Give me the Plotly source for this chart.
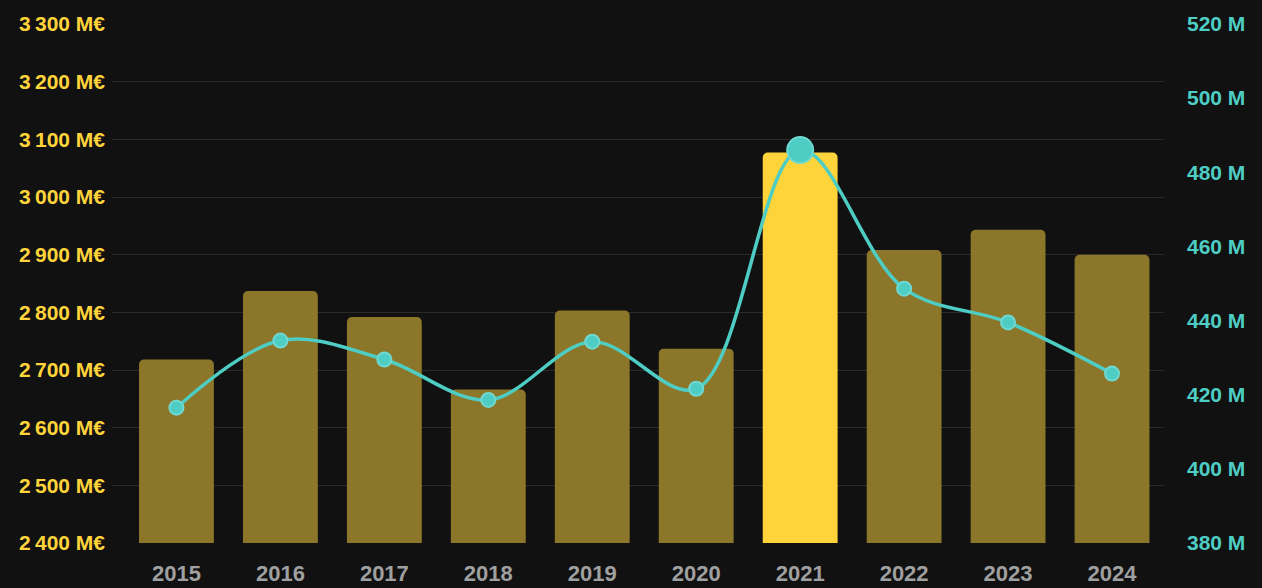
import plotly.graph_objects as go

years = ["2015", "2016", "2017", "2018", "2019", "2020", "2021", "2022", "2023", "2024"]
revenue = [2718, 2837, 2792, 2666, 2803, 2737, 3077, 2908, 2943, 2900]  # M€
profit = [416.5, 434.6, 429.5, 418.6, 434.3, 421.6, 486.0, 448.6, 439.5, 425.7]  # M
left_ticks = [2400, 2500, 2600, 2700, 2800, 2900, 3000, 3100, 3200, 3300]
left_labels = ["2\u2009400 M€", "2\u2009500 M€", "2\u2009600 M€", "2\u2009700 M€", "2\u2009800 M€",
               "2\u2009900 M€", "3\u2009000 M€", "3\u2009100 M€", "3\u2009200 M€", "3\u2009300 M€"]
right_ticks = [380, 400, 420, 440, 460, 480, 500, 520]
right_labels = ["380 M", "400 M", "420 M", "440 M", "460 M", "480 M", "500 M", "520 M"]
highlight = "2021"

GOLD = "#FFD43B"
GOLD_DIM = "#8c7629"
TEAL = "#4ECDC4"

bar_colors = [GOLD if y == highlight else GOLD_DIM for y in years]
marker_sizes = [26 if y == highlight else 14 for y in years]

fig = go.Figure()
fig.add_trace(go.Bar(
    x=years, y=revenue, marker=dict(color=bar_colors, line=dict(width=0)),
    width=0.72, yaxis="y", showlegend=False,
))
fig.add_trace(go.Scatter(
    x=years, y=profit, yaxis="y2", mode="lines+markers",
    line=dict(color=TEAL, width=3.5, shape="spline", smoothing=1),
    marker=dict(size=marker_sizes, color=TEAL, opacity=1,
                line=dict(color="#6fd9d1", width=2)),
    showlegend=False,
))

fig.update_layout(
    width=1262, height=588,
    paper_bgcolor="#111111", plot_bgcolor="#111111",
    margin=dict(l=112, r=98, t=24, b=45, autoexpand=False),
    barcornerradius=5,
    font=dict(family="Liberation Sans, Arial, sans-serif"),
    xaxis=dict(
        type="category", range=[-0.62, 9.5], showgrid=False, zeroline=False,
        showline=False, ticks="", automargin=False,
        tickfont=dict(size=22, color="#a0a0a0", weight="bold"),
        ticklabelstandoff=15,
    ),
    yaxis=dict(
        range=[2400, 3300], tickvals=left_ticks, ticktext=left_labels,
        showgrid=True, gridcolor="#2a2a2a", gridwidth=1, zeroline=False,
        showline=False, ticks="", automargin=False,
        tickfont=dict(size=21, color=GOLD, weight="bold"),
        ticklabelstandoff=6,
    ),
    yaxis2=dict(
        range=[380, 520], tickvals=right_ticks, ticktext=right_labels,
        overlaying="y", side="right", showgrid=False, zeroline=False,
        showline=False, ticks="", automargin=False,
        tickfont=dict(size=21, color=TEAL, weight="bold"),
        ticklabelstandoff=22,
    ),
)

fig.write_html(
    "out.html",
    config={"displayModeBar": False},
    post_script="document.body.style.margin='0';document.body.style.background='#111111';",
)
